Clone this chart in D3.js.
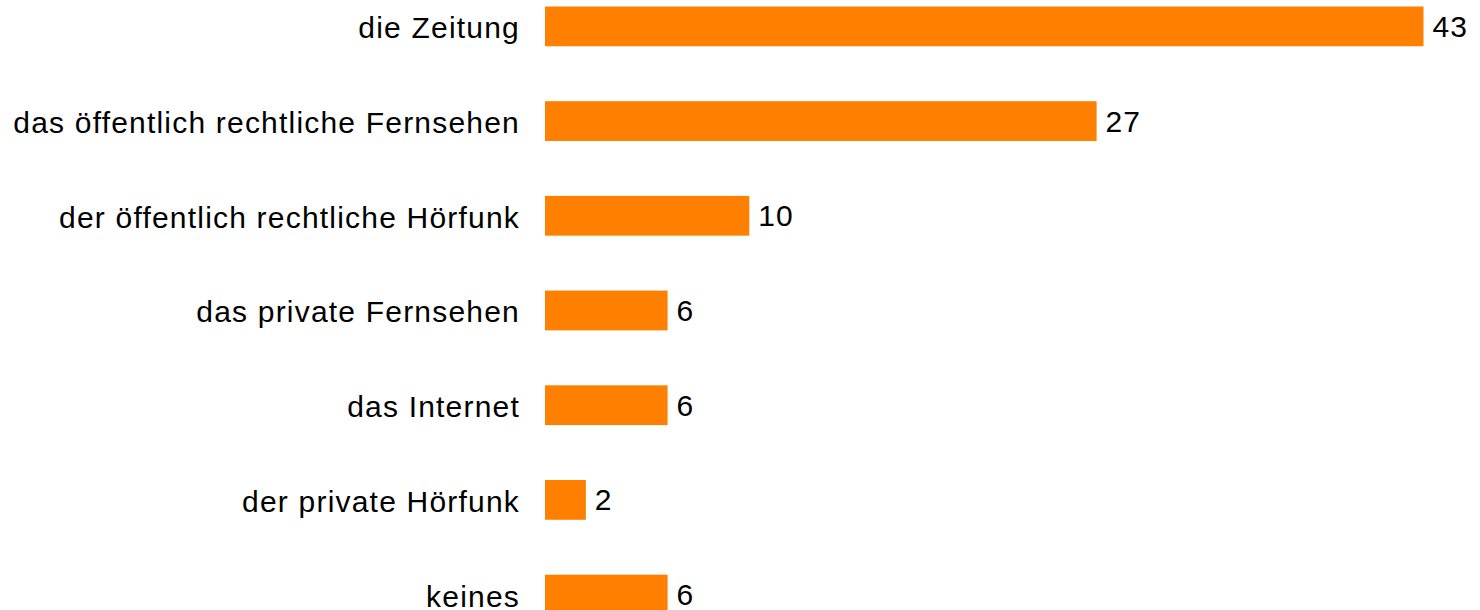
<!DOCTYPE html>
<html>
<head>
<meta charset="utf-8">
<script src="https://cdn.jsdelivr.net/npm/d3@7"></script>
<style>
  html, body { margin: 0; padding: 0; background: #fff; }
  svg { display: block; }
  text { font-family: "Liberation Sans", Arial, sans-serif; fill: #000; }
</style>
</head>
<body>
<svg id="chart" width="1480" height="610"></svg>
<script>
// Media sources and their share (percent)
const categories = [
  "die Zeitung",
  "das öffentlich rechtliche Fernsehen",
  "der öffentlich rechtliche Hörfunk",
  "das private Fernsehen",
  "das Internet",
  "der private Hörfunk",
  "keines"
];
const values = [43, 27, 10, 6, 6, 2, 6];

const width = 1480, height = 610;
const svg = d3.select("#chart");

const x0 = 545;
const x = d3.scaleLinear().domain([0, 43]).range([x0, 1423.5]);

const pInner = 0.58;
const step = 94.7;
const y = d3.scaleBand()
  .domain(categories)
  .range([6.5, 6.5 + step * (categories.length - pInner)])
  .paddingInner(pInner)
  .paddingOuter(0);

const data = categories.map((c, i) => ({ cat: c, val: values[i] }));

svg.append("g").selectAll("rect")
  .data(data)
  .join("rect")
  .attr("x", x(0))
  .attr("y", d => y(d.cat))
  .attr("width", d => x(d.val) - x(0))
  .attr("height", y.bandwidth())
  .attr("fill", "#FF8000");

// category labels, right-aligned against the bars
svg.append("g").selectAll("text")
  .data(data)
  .join("text")
  .attr("x", x0 - 25)
  .attr("y", d => y(d.cat) + y.bandwidth() / 2 + 1.5)
  .attr("dy", "0.35em")
  .attr("text-anchor", "end")
  .style("font-size", "30px")
  .style("letter-spacing", "1.2px")
  .text(d => d.cat);

// value labels at bar ends
svg.append("g").selectAll("text")
  .data(data)
  .join("text")
  .attr("x", d => x(d.val) + 9)
  .attr("y", d => y(d.cat) + y.bandwidth() / 2)
  .attr("dy", "0.35em")
  .style("font-size", "30px")
  .style("letter-spacing", "1px")
  .text(d => d.val);
</script>
</body>
</html>
